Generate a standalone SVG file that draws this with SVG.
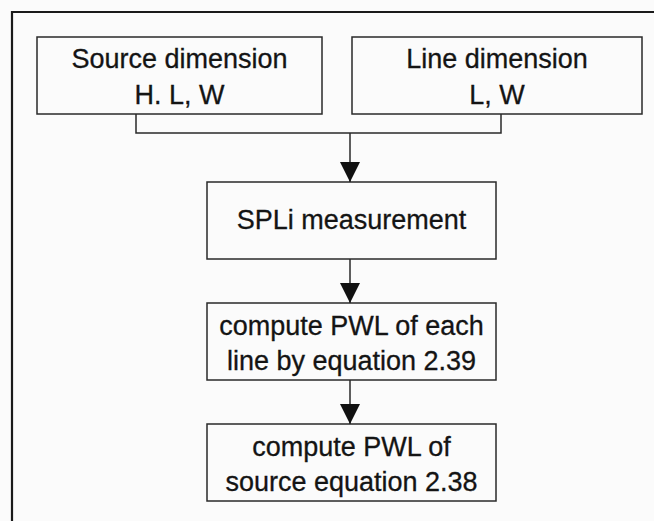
<svg xmlns="http://www.w3.org/2000/svg" width="654" height="521" viewBox="0 0 654 521">
  <defs>
    <style>
      .box { fill: none; stroke: #2a2a2a; stroke-width: 1.5; }
      .lbl { font-family: "Liberation Sans", Arial, sans-serif; font-size: 27px; fill: #141414; stroke: #141414; stroke-width: 0.3; text-anchor: middle; }
      .wire { fill: none; stroke: #2a2a2a; stroke-width: 1.5; }
      .frame { fill: none; stroke: #1a1a1a; stroke-width: 2.2; }
    </style>
    <marker id="arrow" markerUnits="userSpaceOnUse" markerWidth="22" markerHeight="22" refX="20" refY="10" orient="auto">
      <path d="M0,0 L20,10 L0,20 Z" fill="#111"/>
    </marker>
  </defs>

  <rect width="654" height="521" fill="#fbfbfb"/>

  <!-- outer frame: top and left edges -->
  <path class="frame" d="M12,521 V12 H654"/>

  <g id="source-dimension">
    <rect class="box" x="37" y="37" width="285" height="77"/>
    <text class="lbl" x="179.5" y="68">Source dimension</text>
    <text class="lbl" x="179.5" y="104">H. L, W</text>
  </g>

  <g id="line-dimension">
    <rect class="box" x="352" y="37" width="290" height="77"/>
    <text class="lbl" x="497" y="68">Line dimension</text>
    <text class="lbl" x="497" y="104">L, W</text>
  </g>

  <g id="spl-measurement">
    <rect class="box" x="207" y="182" width="289" height="77"/>
    <text class="lbl" x="351.5" y="229">SPLi measurement</text>
  </g>

  <g id="pwl-each-line">
    <rect class="box" x="207" y="303" width="289" height="77"/>
    <text class="lbl" x="351.5" y="335">compute PWL of each</text>
    <text class="lbl" x="351.5" y="370">line by equation 2.39</text>
  </g>

  <g id="pwl-source">
    <rect class="box" x="207" y="424" width="289" height="77"/>
    <text class="lbl" x="351.5" y="456">compute PWL of</text>
    <text class="lbl" x="351.5" y="491">source equation 2.38</text>
  </g>

  <g id="connectors">
    <path class="wire" d="M136,114 V133 H501 V114"/>
    <path class="wire" d="M350,133 V182" marker-end="url(#arrow)"/>
    <path class="wire" d="M350,259 V303" marker-end="url(#arrow)"/>
    <path class="wire" d="M350,380 V424" marker-end="url(#arrow)"/>
  </g>
</svg>
